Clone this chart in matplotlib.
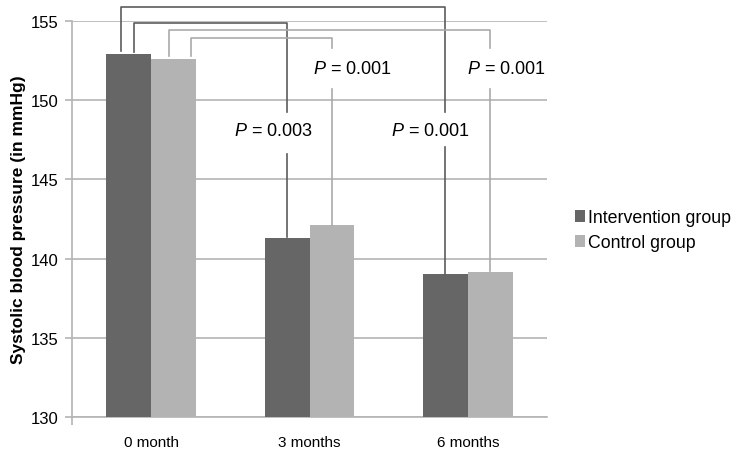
import matplotlib.pyplot as plt
import numpy as np

plt.rcParams['font.family'] = ['Liberation Sans', 'DejaVu Sans']
plt.rcParams['mathtext.fontset'] = 'custom'
plt.rcParams['mathtext.it'] = 'Liberation Sans:italic'
plt.rcParams['mathtext.rm'] = 'Liberation Sans'

months = ['0 month', '3 months', '6 months']
intervention = [152.9, 141.3, 139.0]
control = [152.6, 142.1, 139.15]

# brackets: (left x offset, top y, right group, left end y, gap bottom, gap top, label, label x, label y)
dark_brackets = [
    (-0.19, 155.88, 2, 153.1, 147.05, 149.25, 'P = 0.001', 1.76, 148.1),
    (-0.11, 154.87, 1, 153.05, 146.6, 149.25, 'P = 0.003', 0.77, 148.1),
]
light_brackets = [
    (0.114, 154.43, 2, 152.8, 150.7, 153.3, 'P = 0.001', 2.24, 152.0),
    (0.25, 153.93, 1, 152.8, 150.7, 153.3, 'P = 0.001', 1.27, 152.0),
]

dark = '#666666'
light = '#b3b3b3'
grid = '#b4b4b4'

fig = plt.figure(figsize=(7.4, 4.56), dpi=100)
ax = fig.add_axes([0.0973, 0.0833, 0.6419, 0.8685])

x = np.arange(len(months))
w = 0.284
ax.bar(x - w / 2, intervention, w, color=dark, label='Intervention group', zorder=3)
ax.bar(x + w / 2, control, w, color=light, label='Control group', zorder=3)

ax.set_ylim(130, 155)
ax.set_xlim(-0.5, 2.5)
ax.set_yticks(range(130, 156, 5))
ax.set_xticks(x)
ax.set_xticklabels(months, fontsize=11)
ax.set_xticks([-0.5], minor=True)
ax.tick_params(axis='x', which='major', length=0, pad=13)
ax.tick_params(axis='x', which='minor', length=6, color=grid, width=1.2)
ax.tick_params(axis='y', length=5, color=grid, width=1.2, labelsize=12, pad=5)
ax.yaxis.grid(True, color=grid, linewidth=1.2, zorder=0)
ax.set_axisbelow(True)
for s in ['top', 'right']:
    ax.spines[s].set_visible(False)
for s in ['left', 'bottom']:
    ax.spines[s].set_color(grid)
    ax.spines[s].set_linewidth(1.2)
ax.set_ylabel('Systolic blood pressure (in mmHg)', fontsize=12.5, fontweight='bold', labelpad=3)


def bracket(b, off, vals, col):
    lx, top, g, lend, gb, gt, lab, tx, ty = b
    rx = g + off
    ry = vals[g] + 0.05
    kw = dict(color=col, linewidth=1.2, clip_on=False, zorder=4)
    ax.plot([lx, lx, rx, rx], [lend, top, top, gt], **kw)
    ax.plot([rx, rx], [gb, ry], **kw)
    ax.text(tx, ty, lab.replace('P', '$P$'), fontsize=13, ha='center', va='center', zorder=5)


for b in dark_brackets:
    bracket(b, -w / 2, intervention, '#5c5c5c')
for b in light_brackets:
    bracket(b, w / 2, control, '#aaaaaa')

fig.legend(loc='center left', bbox_to_anchor=(0.755, 0.493), frameon=False,
           fontsize=12.8, handlelength=0.6, handleheight=0.6, handletextpad=0.15,
           labelspacing=0.45)

fig.savefig('out.png', dpi=100)
